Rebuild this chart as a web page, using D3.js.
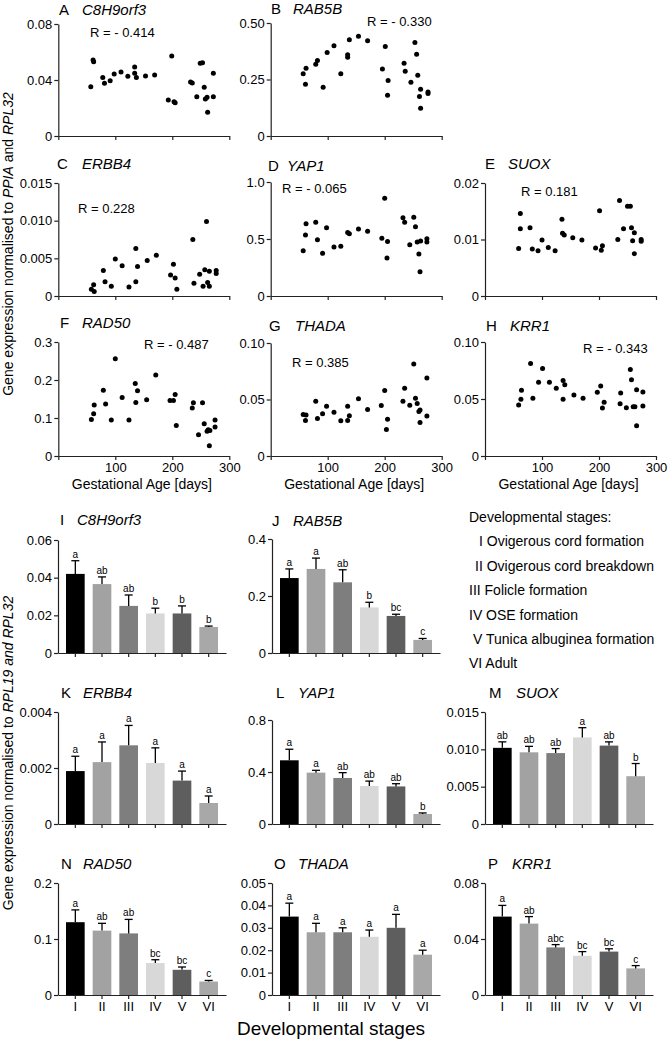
<!DOCTYPE html>
<html><head><meta charset="utf-8">
<script src="https://cdn.jsdelivr.net/npm/d3@7"></script>
<style>
body{margin:0;background:#fff}
text{font-family:"Liberation Sans",Arial,sans-serif;fill:#000}
</style>
</head><body>
<svg id="c" width="672" height="1043"></svg>
<script>
// ---------- DATA ----------
// scatter points: [gestational age (days), expression]
const ptsA = [[57,0.0352],[61,0.0543],[62,0.0531],[78,0.0417],[81,0.0376],[91,0.0395],[98,0.0443],[110,0.0457],[122,0.0426],[134,0.0493],[134,0.0448],[137,0.0417],[153,0.0429],[169,0.0436],[193,0.0257],[199,0.0571],[203,0.0245],[205,0.0238],[232,0.0386],[235,0.0379],[243,0.0281],[249,0.0519],[253,0.0524],[256,0.0348],[258,0.0264],[261,0.0276],[262,0.0169],[272,0.0448],[272,0.0281]];
const ptsB = [[57,0.275],[61,0.229],[62,0.300],[79,0.317],[82,0.334],[92,0.216],[99,0.370],[111,0.399],[123,0.275],[135,0.359],[135,0.349],[138,0.426],[154,0.441],[170,0.422],[196,0.296],[201,0.396],[206,0.246],[205,0.180],[234,0.322],[236,0.286],[246,0.238],[253,0.414],[256,0.362],[258,0.269],[261,0.175],[263,0.207],[263,0.123],[276,0.195],[276,0.188]];
const ptsC = [[58,0.0009],[62,0.0015],[63,0.0006],[79,0.0034],[82,0.0019],[93,0.0013],[100,0.0049],[112,0.0040],[124,0.0012],[136,0.0063],[136,0.0019],[139,0.0039],[156,0.0047],[172,0.0054],[197,0.0028],[202,0.0042],[205,0.0024],[208,0.0009],[236,0.0075],[238,0.0017],[248,0.0029],[254,0.0013],[257,0.0035],[260,0.0099],[262,0.0018],[265,0.0033],[265,0.0013],[277,0.0034],[277,0.0030]];
const ptsD = [[57,0.398],[61,0.535],[62,0.634],[79,0.646],[82,0.494],[91,0.374],[98,0.599],[111,0.430],[123,0.436],[135,0.556],[138,0.547],[154,0.588],[170,0.567],[195,0.506],[200,0.857],[205,0.477],[204,0.333],[232,0.687],[235,0.646],[244,0.450],[251,0.690],[254,0.608],[257,0.474],[260,0.368],[263,0.482],[262,0.213],[274,0.503],[274,0.474]];
const ptsE = [[59,0.0084],[62,0.0146],[62,0.0119],[79,0.0121],[83,0.0083],[93,0.0080],[100,0.0099],[111,0.0086],[123,0.0080],[135,0.0136],[136,0.0111],[139,0.0108],[154,0.0103],[170,0.0099],[194,0.0085],[201,0.0151],[204,0.0081],[206,0.0089],[233,0.0100],[236,0.0169],[243,0.0119],[250,0.0159],[255,0.0159],[257,0.0121],[262,0.0112],[259,0.0098],[262,0.0075],[274,0.0100],[274,0.0097]];
const ptsF = [[58,0.096],[62,0.111],[63,0.134],[79,0.173],[83,0.137],[93,0.095],[100,0.256],[112,0.154],[124,0.095],[135,0.191],[136,0.141],[139,0.172],[155,0.148],[171,0.213],[196,0.146],[202,0.146],[205,0.162],[207,0.080],[235,0.126],[237,0.140],[253,0.140],[256,0.085],[246,0.056],[261,0.065],[263,0.069],[266,0.067],[275,0.095],[275,0.076],[265,0.027]];
const ptsG = [[57,0.0368],[62,0.0362],[61,0.0315],[79,0.0485],[82,0.0332],[91,0.0374],[98,0.0441],[111,0.0388],[123,0.0312],[135,0.0441],[135,0.0315],[138,0.0356],[154,0.0506],[170,0.0412],[194,0.0447],[200,0.0579],[205,0.0326],[203,0.0235],[232,0.0485],[235,0.0600],[244,0.0450],[251,0.0815],[254,0.0512],[257,0.0465],[260,0.0394],[262,0.0406],[262,0.0297],[274,0.0691],[274,0.0353]];
const ptsH = [[59,0.0447],[63,0.0497],[64,0.0576],[80,0.0812],[84,0.0506],[94,0.0647],[101,0.0768],[113,0.0647],[125,0.0594],[137,0.0662],[140,0.0626],[137,0.0497],[156,0.0535],[172,0.0506],[197,0.0559],[203,0.0615],[209,0.0471],[206,0.0421],[238,0.0553],[237,0.0459],[248,0.0424],[255,0.0759],[257,0.0668],[260,0.0432],[263,0.0432],[266,0.0582],[266,0.0265],[277,0.0562],[277,0.0438]];

const ageTicks = [0, 100, 200, 300];
const ageTickLabels = ["", "100", "200", "300"];

// bar charts: mean, upper error (mean + SEM), significance letters
const stages = ["I", "II", "III", "IV", "V", "VI"];
const meanI = [0.042, 0.0366, 0.025, 0.021, 0.021, 0.0138];
const errI  = [0.049, 0.0404, 0.0308, 0.0238, 0.025, 0.0143];
const letI  = ["a", "ab", "ab", "b", "b", "b"];
const meanJ = [0.263, 0.295, 0.248, 0.16, 0.13, 0.046];
const errJ  = [0.295, 0.333, 0.292, 0.178, 0.136, 0.051];
const letJ  = ["a", "a", "ab", "b", "bc", "c"];
const meanK = [0.00189, 0.00221, 0.00281, 0.00218, 0.00155, 0.00075];
const errK  = [0.00242, 0.00293, 0.00352, 0.00272, 0.00189, 0.001];
const letK  = ["a", "a", "a", "a", "a", "a"];
const meanL = [0.49, 0.395, 0.354, 0.292, 0.289, 0.077];
const errL  = [0.575, 0.413, 0.395, 0.33, 0.31, 0.085];
const letL  = ["a", "a", "ab", "ab", "ab", "b"];
const meanM = [0.0102, 0.0096, 0.0095, 0.0116, 0.0105, 0.0064];
const errM  = [0.011, 0.0104, 0.0101, 0.0129, 0.011, 0.0081];
const letM  = ["ab", "ab", "ab", "a", "ab", "b"];
const meanN = [0.13, 0.115, 0.11, 0.057, 0.045, 0.024];
const errN  = [0.152, 0.128, 0.135, 0.063, 0.05, 0.026];
const letN  = ["a", "ab", "ab", "bc", "bc", "c"];
const meanO = [0.035, 0.028, 0.028, 0.026, 0.030, 0.018];
const errO  = [0.041, 0.032, 0.030, 0.029, 0.036, 0.020];
const letO  = ["a", "a", "a", "a", "a", "a"];
const meanP = [0.056, 0.051, 0.034, 0.028, 0.031, 0.019];
const errP  = [0.064, 0.056, 0.036, 0.031, 0.033, 0.021];
const letP  = ["a", "ab", "abc", "bc", "bc", "c"];

const legendLines = ["Developmental stages:", "I Ovigerous cord formation", "II Ovigerous cord breakdown", "III Folicle formation", "IV OSE formation", "V Tunica albuginea formation", "VI Adult"];

// ---------- LAYOUT / STYLE ----------
const svg = d3.select("#c");
const axisColor = "#222";
const barColors = ["#000000", "#a2a2a2", "#7e7e7e", "#d8d8d8", "#5e5e5e", "#a8a8a8"];

const scatterPanels = [
  {L:"A", g:"C8H9orf3", pts:ptsA, R:"R = - 0.414", rx:90, ry:37, max:0.08, ticks:[0,0.04,0.08], tl:["0","0.04","0.08"], x0:58.3, top:24, bot:136, lab:false, lx:59, gx:82, ty:15},
  {L:"B", g:"RAB5B", pts:ptsB, R:"R = - 0.330", rx:367, ry:26, max:0.5, ticks:[0,0.25,0.5], tl:["0","0.25","0.50"], x0:270.7, top:23, bot:136, lab:false, lx:271, gx:293, ty:14},
  {L:"C", g:"ERBB4", pts:ptsC, R:"R = 0.228", rx:78, ry:213, max:0.015, ticks:[0,0.005,0.01,0.015], tl:["0","0.005","0.010","0.015"], x0:58.3, top:183, bot:296, lab:false, lx:57, gx:82, ty:169},
  {L:"D", g:"YAP1", pts:ptsD, R:"R = - 0.065", rx:282, ry:193, max:1.0, ticks:[0,0.5,1.0], tl:["0","0.5","1.0"], x0:270.7, top:182, bot:296, lab:false, lx:268, gx:287, ty:171},
  {L:"E", g:"SUOX", pts:ptsE, R:"R = 0.181", rx:521, ry:196, max:0.02, ticks:[0,0.01,0.02], tl:["0","0.01","0.02"], x0:485, top:183, bot:296, lab:false, lx:485, gx:508, ty:169},
  {L:"F", g:"RAD50", pts:ptsF, R:"R = - 0.487", rx:144, ry:349, max:0.3, ticks:[0,0.1,0.2,0.3], tl:["0","0.1","0.2","0.3"], x0:58.3, top:342, bot:456, lab:true, lx:60, gx:82, ty:328},
  {L:"G", g:"THADA", pts:ptsG, R:"R = 0.385", rx:292, ry:367, max:0.10, ticks:[0,0.05,0.10], tl:["0","0.05","0.10"], x0:270.7, top:343, bot:456, lab:true, lx:269, gx:295, ty:331},
  {L:"H", g:"KRR1", pts:ptsH, R:"R = - 0.343", rx:583, ry:353, max:0.10, ticks:[0,0.05,0.10], tl:["0","0.05","0.10"], x0:485, top:342, bot:456, lab:true, lx:486, gx:510, ty:331}
];
const scW = 171;

function styleAxis(g){
  g.selectAll("path").attr("stroke", axisColor).attr("stroke-width", 1.2);
  g.selectAll("line").attr("stroke", axisColor).attr("stroke-width", 1.2);
  g.selectAll("text").attr("font-size", 13).attr("fill", "#000")
    .attr("font-family", '"Liberation Sans",Arial,sans-serif');
}

scatterPanels.forEach(p => {
  const x = d3.scaleLinear().domain([0, 300]).range([p.x0, p.x0 + scW]);
  const y = d3.scaleLinear().domain([0, p.max]).range([p.bot, p.top]);
  const gy = svg.append("g").attr("transform", `translate(${p.x0},0)`)
    .call(d3.axisLeft(y).tickValues(p.ticks).tickFormat((d,i) => p.tl[i]).tickSize(4).tickSizeOuter(0).tickPadding(2));
  styleAxis(gy);
  const gx = svg.append("g").attr("transform", `translate(0,${p.bot})`)
    .call(d3.axisBottom(x).tickValues(ageTicks).tickFormat((d,i) => p.lab ? ageTickLabels[i] : "").tickSize(4).tickSizeOuter(0).tickPadding(3));
  styleAxis(gx);
  svg.append("g").selectAll("circle").data(p.pts).join("circle")
    .attr("cx", d => x(d[0])).attr("cy", d => y(d[1])).attr("r", 2.5).attr("fill", "#000");
  svg.append("text").attr("x", p.lx).attr("y", p.ty).attr("font-size", 15).text(p.L);
  svg.append("text").attr("x", p.gx).attr("y", p.ty).attr("font-size", 15).attr("font-style", "italic").text(p.g);
  svg.append("text").attr("x", p.rx).attr("y", p.ry).attr("font-size", 13).text(p.R);
  if (p.lab) {
    svg.append("text").attr("x", p.x0 + scW/2 - 2).attr("y", 489).attr("text-anchor", "middle")
      .attr("font-size", 14).text("Gestational Age [days]");
  }
});

// scatter y title
{
  const t = svg.append("text").attr("transform", "translate(13,244) rotate(-90)")
    .attr("text-anchor", "middle").attr("font-size", 14);
  t.append("tspan").text("Gene expression  normalised to ");
  t.append("tspan").attr("font-style", "italic").text("PPIA");
  t.append("tspan").text(" and ");
  t.append("tspan").attr("font-style", "italic").text("RPL32");
}

// ---------- BAR PANELS ----------
const barPanels = [
  {L:"I", g:"C8H9orf3", m:meanI, e:errI, s:letI, max:0.06, ticks:[0,0.02,0.04,0.06], tl:["0","0.02","0.04","0.06"], x0:58, top:540, bot:653, lab:false, lx:60, gx:77, ty:525},
  {L:"J", g:"RAB5B", m:meanJ, e:errJ, s:letJ, max:0.4, ticks:[0,0.2,0.4], tl:["0","0.2","0.4"], x0:272, top:539, bot:653, lab:false, lx:272, gx:293, ty:526},
  {L:"K", g:"ERBB4", m:meanK, e:errK, s:letK, max:0.004, ticks:[0,0.002,0.004], tl:["0","0.002","0.004"], x0:58, top:712, bot:824, lab:false, lx:61, gx:83, ty:698},
  {L:"L", g:"YAP1", m:meanL, e:errL, s:letL, max:0.8, ticks:[0,0.4,0.8], tl:["0","0.4","0.8"], x0:272, top:720, bot:824, lab:false, lx:276, gx:298, ty:698},
  {L:"M", g:"SUOX", m:meanM, e:errM, s:letM, max:0.015, ticks:[0,0.005,0.010,0.015], tl:["0","0.005","0.010","0.015"], x0:485, top:712, bot:824, lab:false, lx:489, gx:516, ty:698},
  {L:"N", g:"RAD50", m:meanN, e:errN, s:letN, max:0.2, ticks:[0,0.1,0.2], tl:["0","0.1","0.2"], x0:58, top:883, bot:995, lab:true, lx:61, gx:83, ty:869},
  {L:"O", g:"THADA", m:meanO, e:errO, s:letO, max:0.05, ticks:[0,0.01,0.02,0.03,0.04,0.05], tl:["0","0.01","0.02","0.03","0.04","0.05"], x0:272, top:883, bot:995, lab:true, lx:274, gx:298, ty:869},
  {L:"P", g:"KRR1", m:meanP, e:errP, s:letP, max:0.08, ticks:[0,0.04,0.08], tl:["0","0.04","0.08"], x0:485, top:883, bot:995, lab:true, lx:488, gx:512, ty:869}
];
const barW = 168;

barPanels.forEach(p => {
  const x = d3.scaleBand().domain(stages).range([p.x0, p.x0 + barW]).paddingInner(0.3).paddingOuter(0.3);
  const y = d3.scaleLinear().domain([0, p.max]).range([p.bot, p.top]);
  const bw = x.bandwidth();
  svg.append("g").selectAll("rect").data(stages).join("rect")
    .attr("x", d => x(d)).attr("width", bw)
    .attr("y", (d,i) => y(p.m[i])).attr("height", (d,i) => y(0) - y(p.m[i]))
    .attr("fill", (d,i) => barColors[i]);
  const eg = svg.append("g").attr("stroke", "#000").attr("stroke-width", 1.3);
  stages.forEach((d,i) => {
    const cx = x(d) + bw/2;
    eg.append("line").attr("x1", cx).attr("x2", cx).attr("y1", y(p.m[i])).attr("y2", y(p.e[i]));
    eg.append("line").attr("x1", cx - 4).attr("x2", cx + 4).attr("y1", y(p.e[i])).attr("y2", y(p.e[i]));
  });
  svg.append("g").selectAll("text").data(stages).join("text")
    .attr("x", d => x(d) + bw/2).attr("y", (d,i) => y(p.e[i]) - 3)
    .attr("text-anchor", "middle").attr("font-size", 10).text((d,i) => p.s[i]);
  const gy = svg.append("g").attr("transform", `translate(${p.x0},0)`)
    .call(d3.axisLeft(y).tickValues(p.ticks).tickFormat((d,i) => p.tl[i]).tickSize(4).tickSizeOuter(0).tickPadding(2));
  styleAxis(gy);
  const gx = svg.append("g").attr("transform", `translate(0,${p.bot})`)
    .call(d3.axisBottom(x).tickFormat(d => p.lab ? d : "").tickSize(4).tickSizeOuter(0).tickPadding(3));
  styleAxis(gx);
  svg.append("text").attr("x", p.lx).attr("y", p.ty).attr("font-size", 15).text(p.L);
  svg.append("text").attr("x", p.gx).attr("y", p.ty).attr("font-size", 15).attr("font-style", "italic").text(p.g);
});

// bar y title
{
  const t = svg.append("text").attr("transform", "translate(13,753) rotate(-90)")
    .attr("text-anchor", "middle").attr("font-size", 14);
  t.append("tspan").text("Gene expression  normalised to ");
  t.append("tspan").attr("font-style", "italic").text("RPL19 and RPL32");
}
svg.append("text").attr("x", 331).attr("y", 1035).attr("text-anchor", "middle").attr("font-size", 19).text("Developmental stages");

// legend
const legX = [469, 479, 475, 469, 469, 473, 469];
svg.append("g").selectAll("text").data(legendLines).join("text")
  .attr("x", (d,i) => legX[i]).attr("y", (d,i) => 522 + i * 24.4)
  .attr("font-size", 14).text(d => d);
</script>
</body></html>
